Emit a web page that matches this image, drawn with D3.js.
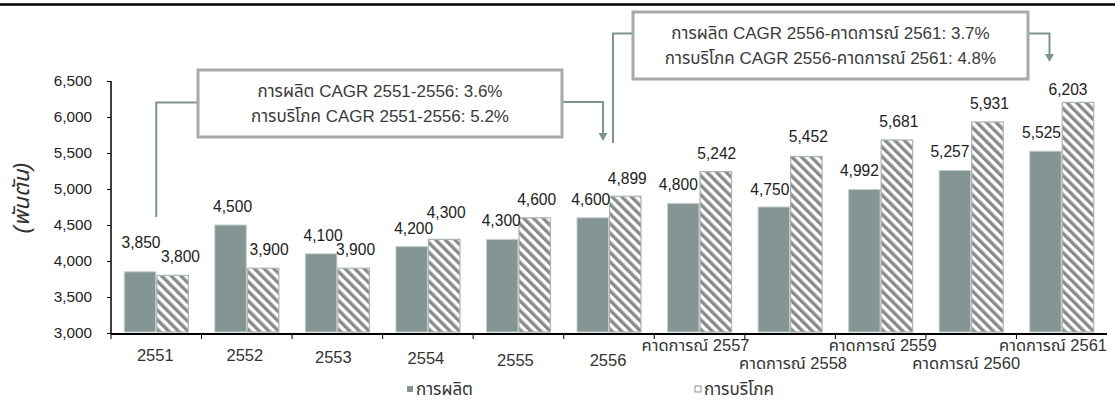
<!DOCTYPE html>
<html>
<head>
<meta charset="utf-8">
<script src="https://cdn.jsdelivr.net/npm/d3@7"></script>
<style>
  html, body { margin: 0; padding: 0; background: #fff; }
  svg { display: block; }
  text { font-family: "Liberation Sans", Arial, "Noto Sans Thai", "Noto Sans", sans-serif; }
</style>
</head>
<body>
<svg id="chart" width="1115" height="401"></svg>
<script>
// ---------- data ----------
const categories = ["2551", "2552", "2553", "2554", "2555", "2556",
  "คาดการณ์ 2557", "คาดการณ์ 2558", "คาดการณ์ 2559", "คาดการณ์ 2560", "คาดการณ์ 2561"];
const production  = [3850, 4500, 4100, 4200, 4300, 4600, 4800, 4750, 4992, 5257, 5525];
const consumption = [3800, 3900, 3900, 4300, 4600, 4899, 5242, 5452, 5681, 5931, 6203];
const seriesNames = ["การผลิต", "การบริโภค"];
const yTicks = [3000, 3500, 4000, 4500, 5000, 5500, 6000, 6500];
const yTitle = "(พันตัน)";
const note1 = ["การผลิต CAGR 2551-2556: 3.6%", "การบริโภค CAGR 2551-2556: 5.2%"];
const note2 = ["การผลิต CAGR 2556-คาดการณ์ 2561: 3.7%", "การบริโภค CAGR 2556-คาดการณ์ 2561: 4.8%"];

// ---------- layout tweaks (label nudges, as in the source) ----------
const prodLabelNudge = [[1, -11], [2, 0], [2, 0], [2, 0], [-1, 0], [-2, 0], [-5, 0], [-4, 1], [-5, -1], [-5, 0], [-4, 0]];
const consLabelNudge = [[8, 0], [6, 0], [2, 0], [2, -8], [2, 0], [2, 1], [1, 0], [2, -1], [2, 0], [2, 0], [-10, 6]];
const catLabelY  = [355, 355, 357, 358, 360, 360, 345, 363, 345, 363, 345];
const catLabelDx = [-1, -2, -4, -2, -3, -1, -4, 3, 2, -5, 0];

// ---------- drawing ----------
const svg = d3.select("#chart");
const W = 1115;
const mLeft = 111, mRight = 1107, mTop = 81, mBottom = 333;

const colProd = "#849593";
const colConn = "#7e9391";
const colBox = "#a6abaa";

// top rule
svg.append("line").attr("x1", 0).attr("x2", W).attr("y1", 4.5).attr("y2", 4.5)
  .attr("stroke", "#000").attr("stroke-width", 2.6);

// hatch pattern
const defs = svg.append("defs");
const pat = defs.append("pattern").attr("id", "hatch")
  .attr("patternUnits", "userSpaceOnUse").attr("width", 6.8).attr("height", 6.8)
  .attr("patternTransform", "rotate(-45)");
pat.append("rect").attr("width", 6.8).attr("height", 6.8).attr("fill", "#fff");
pat.append("rect").attr("width", 3.4).attr("height", 6.8).attr("fill", "#8a8a8a");

const y = d3.scaleLinear().domain([3000, 6500]).range([mBottom, mTop]);
const x0 = d3.scaleBand().domain(categories).range([mLeft, mRight]).paddingInner(0.282).paddingOuter(0.141);
const x1 = d3.scaleBand().domain(seriesNames).range([0, x0.bandwidth()]);
const step = x0.step();

// y axis
const yAxis = d3.axisLeft(y).tickValues(yTicks).tickSize(4).tickPadding(15)
  .tickFormat(d3.format(","));
const gy = svg.append("g").attr("transform", `translate(${mLeft},0)`).call(yAxis);
gy.select(".domain").attr("stroke", "#000").attr("stroke-width", 1.5).attr("d", `M0,${mTop}V${mBottom + 1}`);
gy.selectAll(".tick line").attr("stroke", "#000");
gy.selectAll(".tick text").attr("font-size", 15.3).attr("fill", "#222")
  .attr("font-family", '"Liberation Sans", Arial, sans-serif');

// y title
svg.append("text").attr("transform", "translate(21,198) rotate(-90)")
  .attr("text-anchor", "middle").attr("dy", "0.35em")
  .attr("font-size", 22).attr("font-style", "italic").attr("fill", "#333").text(yTitle);

// x axis line and category ticks
svg.append("line").attr("x1", mLeft).attr("x2", mRight).attr("y1", mBottom + 1).attr("y2", mBottom + 1)
  .attr("stroke", "#000").attr("stroke-width", 2);
const boundaries = d3.range(categories.length).map(i => mLeft + i * step);
svg.append("g").selectAll("line").data(boundaries).join("line")
  .attr("x1", d => d).attr("x2", d => d).attr("y1", mBottom).attr("y2", mBottom + 6)
  .attr("stroke", "#000").attr("stroke-width", 1);

// bars
const groups = svg.append("g").selectAll("g").data(categories).join("g")
  .attr("transform", d => `translate(${x0(d)},0)`);
groups.append("rect")
  .attr("x", x1(seriesNames[0]) + 0.5).attr("width", x1.bandwidth() - 1)
  .attr("y", (d, i) => y(production[i])).attr("height", (d, i) => y(3000) - y(production[i]) - 1)
  .attr("fill", colProd).attr("stroke", "#c3cfcd").attr("stroke-width", 1);
groups.append("rect")
  .attr("x", x1(seriesNames[1]) + 0.5).attr("width", x1.bandwidth() - 1)
  .attr("y", (d, i) => y(consumption[i])).attr("height", (d, i) => y(3000) - y(consumption[i]) - 1)
  .attr("fill", "url(#hatch)").attr("stroke", "#a8b6b4").attr("stroke-width", 1.2);

// value labels
const fmt = d3.format(",");
groups.append("text")
  .attr("x", (d, i) => x1(seriesNames[0]) + x1.bandwidth() / 2 + prodLabelNudge[i][0])
  .attr("y", (d, i) => y(production[i]) - 18.5 + prodLabelNudge[i][1])
  .attr("dy", "0.35em").attr("text-anchor", "middle").attr("font-size", 15.6).attr("fill", "#222")
  .text((d, i) => fmt(production[i]));
groups.append("text")
  .attr("x", (d, i) => x1(seriesNames[1]) + x1.bandwidth() / 2 + consLabelNudge[i][0])
  .attr("y", (d, i) => y(consumption[i]) - 18.5 + consLabelNudge[i][1])
  .attr("dy", "0.35em").attr("text-anchor", "middle").attr("font-size", 15.6).attr("fill", "#222")
  .text((d, i) => fmt(consumption[i]));

// category labels
svg.append("g").selectAll("text").data(categories).join("text")
  .attr("x", (d, i) => i === categories.length - 1 ? mRight : x0(d) + x0.bandwidth() / 2 + catLabelDx[i])
  .attr("y", (d, i) => catLabelY[i]).attr("dy", "0.35em")
  .attr("text-anchor", (d, i) => i === categories.length - 1 ? "end" : "middle")
  .attr("font-size", 16.5).attr("fill", "#333").text(d => d);

// legend
const legend = [{name: seriesNames[0], x: 407, fill: colProd, stroke: "none"},
                {name: seriesNames[1], x: 695, fill: "#fff", stroke: "#777"}];
const lg = svg.append("g").selectAll("g").data(legend).join("g");
lg.append("rect").attr("x", d => d.x).attr("y", 386).attr("width", 6).attr("height", 6)
  .attr("fill", d => d.fill).attr("stroke", d => d.stroke).attr("stroke-width", 0.8);
lg.append("text").attr("x", d => d.x + 9).attr("y", 389).attr("dy", "0.35em")
  .attr("font-size", 17).attr("fill", "#333").text(d => d.name);

// annotation boxes
function box(x, yTop, w, h, lines) {
  svg.append("rect").attr("x", x).attr("y", yTop).attr("width", w).attr("height", h)
    .attr("fill", "#fff").attr("stroke", colBox).attr("stroke-width", 3);
  lines.forEach((t, k) => {
    svg.append("text").attr("x", x + w / 2).attr("y", yTop + h / 2 + (k - 0.5) * 25.5).attr("dy", "0.35em")
      .attr("text-anchor", "middle").attr("font-size", 17).attr("fill", "#3a3a3a").text(t);
  });
}
function conn(points, arrow) {
  svg.append("path").attr("d", d3.line()(points)).attr("fill", "none")
    .attr("stroke", colConn).attr("stroke-width", 2);
  if (arrow) {
    const [ax, ay] = points[points.length - 1];
    svg.append("path").attr("d", `M${ax - 4.5},${ay}L${ax + 4.5},${ay}L${ax},${ay + 8}Z`).attr("fill", colConn);
  }
}
const bx1 = x0(categories[0]) + x1.bandwidth();
conn([[bx1, 217], [bx1, 102.5], [198, 102.5]], false);
conn([[562, 102], [603, 102], [603, 133]], true);
box(198, 70, 364, 67, note1);

conn([[613, 143], [613, 33.5], [633, 33.5]], false);
conn([[1028, 33.5], [1049.5, 33.5], [1049.5, 54]], true);
box(633, 12, 395, 67, note2);
</script>
</body>
</html>
